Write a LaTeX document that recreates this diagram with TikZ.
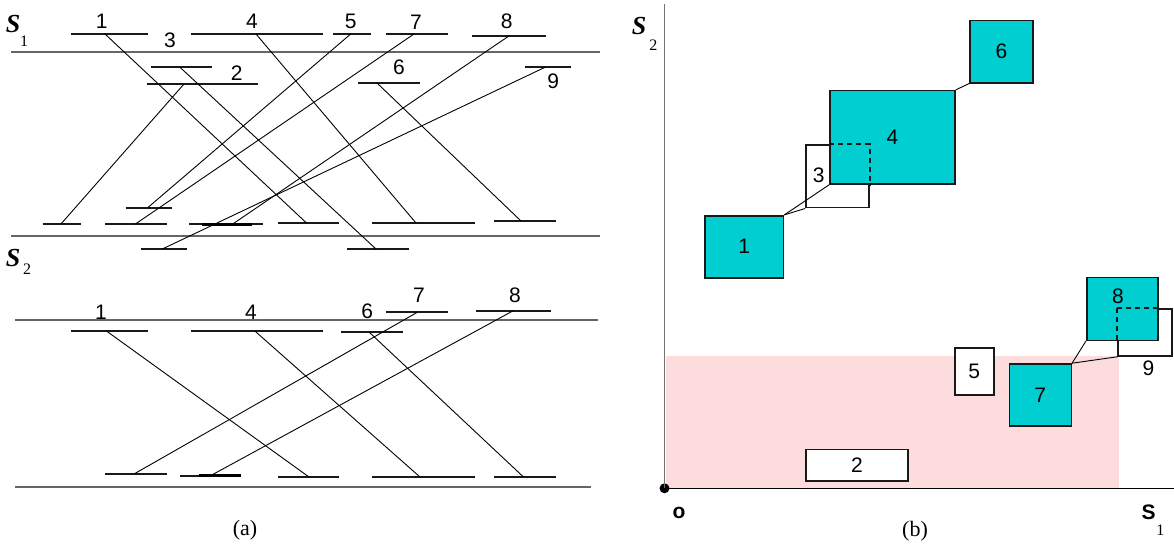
\documentclass[tikz,border=0pt]{standalone}
\usepackage{fontspec}
\setmainfont{Liberation Serif}
\newfontfamily\arial{Liberation Sans}
\definecolor{tq}{RGB}{0,206,209}
\definecolor{pinkr}{RGB}{252,220,220}
\tikzset{
  seg/.style={line width=2pt, black!90},
  thickseg/.style={line width=2.8pt, black},
  conn/.style={line width=0.9pt, black},
  band/.style={line width=1.8pt, black!60},
  axisv/.style={line width=1.5pt, black!55},
  axish/.style={line width=1.3pt, black},
  num/.style={font=\arial\fontsize{21}{22}\selectfont, inner sep=0pt},
  ssym/.style={font=\bfseries\itshape\fontsize{26}{26}\selectfont, inner sep=0pt},
  sbold/.style={font=\arial\bfseries\fontsize{21}{22}\selectfont, inner sep=0pt},
  sub/.style={font=\fontsize{16}{16}\selectfont, inner sep=0pt},
  captext/.style={font=\fontsize{22}{22}\selectfont, inner sep=0pt},
  box/.style={draw=black!90, line width=1.6pt, rectangle, inner sep=0pt, font=\arial\fontsize{21}{22}\selectfont},
  full/.style={box, fill=tq},
  hollow/.style={box, fill=white},
  dashline/.style={dash pattern=on 5pt off 4pt, line width=1.6pt, black!90},
}
\begin{document}
\begin{tikzpicture}[x=1pt,y=-1pt]
\useasboundingbox (0,0) rectangle (1174,543);

% ================= (a) top band =================
\draw[band] (11,51.7) -- (600,51.7);
\node[ssym] (s1a) at (13,24) {S};
\node[sub] (s1asub) at (24,41) {1};

\draw[seg] (70.7,34) -- (148,34);     \coordinate (a1) at (105,34);    \node[num] (la1) at (101.7,21) {1};
\draw[seg] (150.7,67.3) -- (212.3,67.3); \coordinate (a3) at (180,67.3); \node[num] (la3) at (170,40) {3};
\draw[seg] (146.7,84) -- (257.7,84);  \coordinate (a2) at (184,84);    \node[num] (la2) at (236.7,72.7) {2};
\draw[seg] (190.7,34) -- (322.7,34);  \coordinate (a4) at (256,34);    \node[num] (la4) at (252,21) {4};
\draw[seg] (332.7,34) -- (371,34);    \coordinate (a5) at (350.7,34);  \node[num] (la5) at (350.7,21) {5};
\draw[seg] (386,34) -- (447.7,34);    \coordinate (a7) at (414,34);    \node[num] (la7) at (416,22) {7};
\draw[seg] (471.7,35.7) -- (546,35.7); \coordinate (a8) at (509.3,35.7); \node[num] (la8) at (506.7,21) {8};
\draw[seg] (357.7,82.7) -- (420,82.7); \coordinate (a6) at (376.7,82.7); \node[num] (la6) at (399,67.3) {6};
\draw[seg] (525,67.3) -- (570.7,67.3); \coordinate (a9) at (545,67.3); \node[num] (la9) at (553.3,81) {9};

% middle segments
\draw[seg] (42.7,224.3) -- (81,224.3);   \coordinate (b2) at (60.7,224.3);
\draw[seg] (105,224.3) -- (166.7,224.3); \coordinate (b7) at (135,224.3);
\draw[seg] (125.7,207.7) -- (171.7,207.7); \coordinate (b5) at (147.7,207.7);
\draw[seg] (189,224.3) -- (263.3,224.3); \draw[thickseg] (201.7,224.3) -- (251.7,224.3); \coordinate (b8) at (232.3,224.3);
\draw[seg] (278.3,223) -- (339,223);     \coordinate (b1) at (306.5,223);
\draw[seg] (372,223) -- (474.5,223);     \coordinate (b4) at (416,223);
\draw[seg] (494,221) -- (556,221);       \coordinate (b6) at (521,221);
\draw[seg] (141,249) -- (187.3,249);     \coordinate (b9) at (162.3,249);
\draw[seg] (347,249) -- (409,249);       \coordinate (b3) at (376,249);

\draw[band] (11,235.7) -- (600,235.7);
\node[ssym] (s2a) at (13,258) {S};
\node[sub] (s2asub) at (27,269) {2};

\foreach \i in {1,...,9} { \draw[conn] (a\i) -- (b\i); }

% ================= (a) bottom band =================
\draw[band] (15,320) -- (598,320);
\draw[band] (15,486.7) -- (591,486.7);

\draw[seg] (71,330.7) -- (148,330.7);     \coordinate (c1) at (106,330.7);   \node[num] (lc1) at (101,312) {1};
\draw[seg] (191,330.7) -- (323,330.7);    \coordinate (c4) at (254.5,330.7); \node[num] (lc4) at (251,312) {4};
\draw[seg] (340.7,332.3) -- (402.7,332.3); \coordinate (c6) at (369.3,332.3); \node[num] (lc6) at (367.3,311) {6};
\draw[seg] (385.7,312.3) -- (447.7,312.3); \coordinate (c7) at (417.3,312.3); \node[num] (lc7) at (419,295) {7};
\draw[seg] (476,310.7) -- (550.7,310.7);  \coordinate (c8) at (513.3,310.7); \node[num] (lc8) at (515,295) {8};

\draw[seg] (105,474) -- (166.5,474);     \coordinate (d7) at (134,474);
\draw[seg] (180,475.7) -- (241,475.7);   \draw[thickseg] (199,475.7) -- (241,475.7); \coordinate (d8) at (210.5,475.7);
\draw[seg] (278,477) -- (339,477);       \coordinate (d1) at (309,477);
\draw[seg] (372,477) -- (474.5,477);     \coordinate (d4) at (420,477);
\draw[seg] (494,477) -- (556,477);       \coordinate (d6) at (523.5,477);

\foreach \i in {1,4,6,7,8} { \draw[conn] (c\i) -- (d\i); }

\node[captext] (capa) at (245,530) {(a)};

% ================= (b) =================
\fill[pinkr] (665.5,355.7) rectangle (1119,488.3);

\node[hollow, minimum width=63pt, minimum height=62.7pt] (r3) at (837.5,176.3) {};
\node[full, minimum width=125pt, minimum height=93.3pt] (r4) at (892.5,137.3) {4};
\draw[dashline] (r4.west |- r3.north) -- (r3.north east) -- (r3.east |- r4.south);
\node[num] (l3) at (818.6,175) {3};

\node[full, minimum width=78.5pt, minimum height=62pt] (r1) at (744.25,246.7) {1};
\node[full, minimum width=63pt, minimum height=62pt] (r6) at (1001.5,51.7) {6};

\node[hollow, minimum width=54pt, minimum height=47pt] (r9) at (1145,332.5) {};
\node[full, minimum width=71pt, minimum height=63pt] (r8) at (1122.2,308.8) {};
\draw[dashline] (r9.north west) -- (r8.east |- r9.north);
\draw[dashline] (r9.north west) -- (r9.west |- r8.south);
\node[num] (l8) at (1118,296) {8};
\node[num] (l9) at (1148.5,368) {9};

\node[hollow, minimum width=39pt, minimum height=47pt] (r5) at (974.2,371.5) {5};
\node[full, minimum width=62pt, minimum height=62pt] (r7) at (1040.3,395) {7};
\node[hollow, minimum width=102pt, minimum height=31.4pt] (r2) at (857,465) {2};

\draw[conn] (r1.north east) -- (r4.south west);
\draw[conn] (r1.north east) -- (r3.south west);
\draw[conn] (r4.north east) -- (r6.south west);
\draw[conn] (r7.north east) -- (r8.south west);
\draw[conn] (r7.north east) -- (r9.south west);

\coordinate (ytop) at (664.5,4);
\coordinate (xend) at (1174,488.3);
\node[circle, fill=black, minimum size=10pt, inner sep=0pt] (o) at (664.5,488.3) {};
\draw[axisv] (o.center) -- (ytop);
\draw[axish] (o.center) -- (xend);

\node[sbold] (olab) at (679,513) {o};
\node[sbold] (s1b) at (1148.5,512) {S};
\node[sub] (s1bsub) at (1160.4,530) {1};
\node[ssym] (s2b) at (639,26) {S};
\node[sub] (s2bsub) at (653.3,45) {2};
\node[captext] (capb) at (915,531) {(b)};
\end{tikzpicture}
\end{document}
